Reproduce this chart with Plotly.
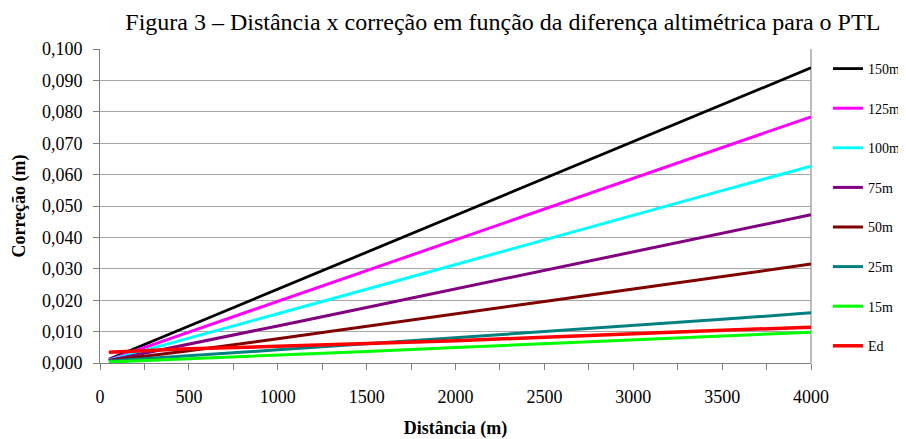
import plotly.graph_objects as go

distancia = [50, 500, 1000, 1500, 2000, 2500, 3000, 3500, 4000]

series_names = ["150m", "125m", "100m", "75m", "50m", "25m", "15m", "Ed"]
v150 = [0.0012, 0.0118, 0.0235, 0.0353, 0.0470, 0.0588, 0.0705, 0.0823, 0.0940]
v125 = [0.0010, 0.0098, 0.0196, 0.0294, 0.0392, 0.0490, 0.0588, 0.0686, 0.0784]
v100 = [0.0009, 0.0078, 0.0157, 0.0235, 0.0314, 0.0392, 0.0470, 0.0549, 0.0627]
v75 = [0.0008, 0.0059, 0.0118, 0.0177, 0.0236, 0.0295, 0.0354, 0.0413, 0.0472]
v50 = [0.0007, 0.0039, 0.0077, 0.0116, 0.0156, 0.0196, 0.0236, 0.0275, 0.0315]
v25 = [0.0006, 0.0022, 0.0042, 0.0061, 0.0080, 0.0099, 0.0118, 0.0139, 0.0160]
v15 = [0.0003, 0.0013, 0.0025, 0.0037, 0.0049, 0.0061, 0.0074, 0.0086, 0.0098]
ved = [0.0034, 0.0045, 0.0053, 0.0061, 0.0071, 0.0082, 0.0094, 0.0104, 0.0114]
series_values = [v150, v125, v100, v75, v50, v25, v15, ved]

colors = ["#000000", "#FF00FF", "#00FFFF", "#800080", "#800000", "#008080", "#00FF00", "#FF0000"]
widths = [2.8, 3, 3, 3, 3, 3, 3, 3.5]

x_tickvals = list(range(0, 4001, 250))
x_ticktext = [str(v) if v % 500 == 0 else "" for v in x_tickvals]
y_tickvals = [i / 100 for i in range(0, 11)]

fig = go.Figure()
for name, vals, c, w in zip(series_names, series_values, colors, widths):
    fig.add_trace(go.Scatter(
        x=distancia, y=vals, mode="lines", name=name, legendgroup=name,
        line=dict(color=c, width=w),
    ))

serif = "Liberation Serif"
fig.update_layout(
    width=898, height=431,
    margin=dict(l=92, r=95, t=41, b=76),
    paper_bgcolor="white", plot_bgcolor="white",
    separators=",.",
    title=dict(text="Figura 3 – Distância x correção em função da diferença altimétrica para o PTL",
               font=dict(family=serif, size=24, color="black"),
               x=0.551, xanchor="center", xref="container", y=0.9675, yanchor="middle", yref="container"),
    showlegend=True,
    legend=dict(x=0.9131, xanchor="left", xref="container",
                y=0.8956, yanchor="top", yref="container", maxheight=1,
                font=dict(family=serif, size=14, color="black"),
                traceorder="grouped", tracegroupgap=18.4, itemwidth=30,
                bgcolor="rgba(0,0,0,0)"),
    font=dict(family=serif, color="black"),
)
fig.update_xaxes(
    range=[0, 4000], tickvals=x_tickvals, ticktext=x_ticktext, automargin=False,
    ticks="outside", ticklen=6, tickcolor="#808080", tickwidth=1,
    showline=True, linecolor="#808080", linewidth=1,
    showgrid=False, zeroline=False,
    tickfont=dict(family=serif, size=18, color="black"),
    ticklabelstandoff=11,
    title=dict(text="<b>Distância (m)</b>", font=dict(family=serif, size=18, color="black"), standoff=15),
)
fig.update_yaxes(
    range=[0, 0.1], tickvals=y_tickvals, tickformat=".3f", automargin=False,
    ticks="outside", ticklen=6, tickcolor="#808080", tickwidth=1,
    showline=True, linecolor="#808080", linewidth=1,
    showgrid=True, gridcolor="#a6a6a6", gridwidth=1, zeroline=False,
    tickfont=dict(family=serif, size=18, color="black"),
    ticklabelstandoff=7,
    title=dict(text="<b>Correção (m)</b>", font=dict(family=serif, size=18, color="black"), standoff=11),
)
fig.add_shape(type="line", xref="paper", yref="paper", x0=1, x1=1, y0=0, y1=1,
              line=dict(color="#a6a6a6", width=1.5), layer="below")
fig.write_html("out.html")
